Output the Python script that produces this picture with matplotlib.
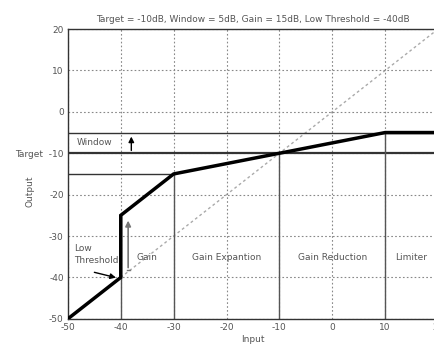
import matplotlib.pyplot as plt
import numpy as np

plt.rcParams['axes.unicode_minus'] = False

# curva de compresion (entrada, salida) en dB
curva_x = [-50, -40, -40, -30, -10, 10, 20]
curva_y = [-50, -40, -25, -15, -10, -5, -5]

diag = [-40, 20]

# lineas de referencia
lineas_h = [(-5, -50, 20), (-10, -50, 20), (-15, -50, -30)]
lineas_v = [(-40, -50, -25), (-30, -50, -15), (-10, -50, -10), (10, -50, -5)]

zonas = ["Gain", "Gain Expantion", "Gain Reduction", "Limiter"]
zonas_x = [-35, -20, 0, 15]

ticks = [-50, -40, -30, -20, -10, 0, 10, 20]
yticks_lbl = ["-50", "-40", "-30", "-20", "Target  -10", "0", "10", "20"]

gris = '#555555'
fs = 6.5

fig = plt.figure(figsize=(4.35, 3.5), dpi=100)
ax = fig.add_axes([0.156, 0.089, 0.851, 0.828])

ax.plot(diag, diag, linestyle=(0, (2, 2)), color='#aaaaaa', lw=1.0, zorder=1)

for y, x0, x1 in lineas_h:
    ax.plot([x0, x1], [y, y], color='#333333', lw=1.6 if y == -10 else 1.0, zorder=2)
for x, y0, y1 in lineas_v:
    ax.plot([x, x], [y0, y1], color='#555555', lw=1.0, zorder=2)

ax.plot(curva_x, curva_y, color='black', lw=2.5, zorder=4, solid_joinstyle='miter')

# flechas
ax.annotate('', xy=(-38, -5.3), xytext=(-38, -10),
            arrowprops=dict(arrowstyle='-|>', color='black', lw=1.0, mutation_scale=8))
ax.annotate('', xy=(-38.6, -25.6), xytext=(-38.6, -38.3),
            arrowprops=dict(arrowstyle='-|>', color='#777777', lw=1.2, mutation_scale=8))
ax.plot([-38.9, -38.3], [-38.3, -38.3], color='#777777', lw=1.0)
ax.annotate('', xy=(-40.4, -40.2), xytext=(-45.5, -38.6),
            arrowprops=dict(arrowstyle='-|>', color='black', lw=1.0, mutation_scale=8))

ax.text(-48.3, -7.5, "Window", fontsize=fs, color=gris, va='center', ha='left')
ax.text(-48.8, -34.5, "Low\nThreshold", fontsize=fs, color=gris, va='center', ha='left',
        linespacing=1.4)
for t, x in zip(zonas, zonas_x):
    ax.text(x, -35.3, t, fontsize=fs, color=gris, ha='center', va='center')

ax.set_xlim(-50, 20)
ax.set_ylim(-50, 20)
ax.set_xticks(ticks)
ax.set_yticks(ticks)
ax.set_yticklabels(yticks_lbl)
ax.tick_params(labelsize=fs, colors=gris, length=0, pad=3)
ax.grid(True, linestyle=(0, (1.5, 2)), color='#888888', lw=0.8)
for s in ax.spines.values():
    s.set_color('#333333')
    s.set_linewidth(1.0)

ax.set_xlabel('Input', fontsize=fs, color=gris, labelpad=2)
ax.set_ylabel('Output', fontsize=fs, color=gris)
ax.yaxis.set_label_coords(-0.09, 0.5 - 0.06)
ax.set_title('Target = -10dB, Window = 5dB, Gain = 15dB, Low Threshold = -40dB',
             fontsize=fs, color=gris, pad=5)

fig.savefig('out.png', dpi=100)
